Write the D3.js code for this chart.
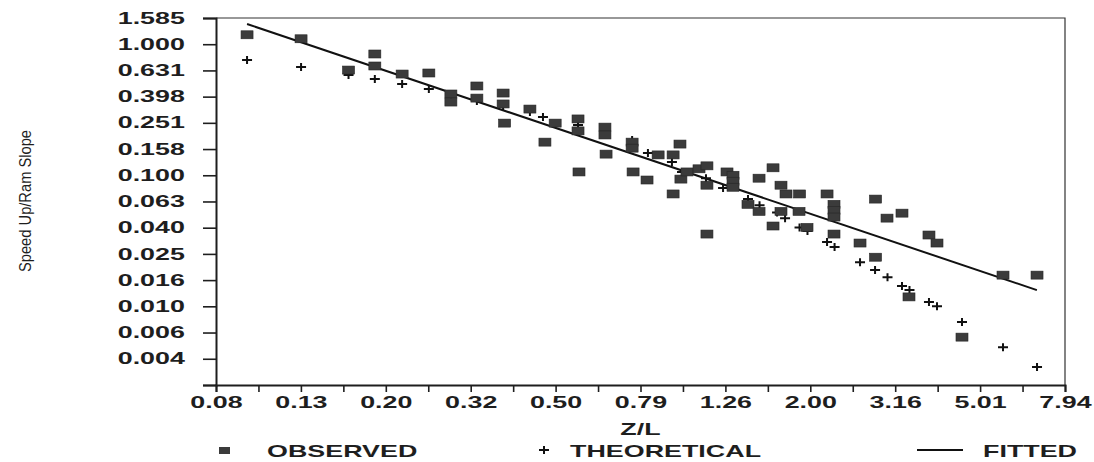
<!DOCTYPE html>
<html>
<head>
<meta charset="utf-8">
<script src="https://cdn.jsdelivr.net/npm/d3@7/dist/d3.min.js"></script>
<style>
body { margin: 0; background: #fff; }
svg { display: block; }
text { font-family: "Liberation Sans", Arial, sans-serif; }
</style>
</head>
<body>
<div id="chart"></div>
<script>
// log-spaced ticks, 0.2 decade apart
var xTickValues = [0.07943, 0.12589, 0.19953, 0.31623, 0.50119, 0.79433, 1.25893, 1.99526, 3.16228, 5.01187, 7.94328];
var xTickLabels = ["0.08", "0.13", "0.20", "0.32", "0.50", "0.79", "1.26", "2.00", "3.16", "5.01", "7.94"];
var yTickValues = [1.58489, 1.0, 0.63096, 0.39811, 0.25119, 0.15849, 0.1, 0.0631, 0.03981, 0.02512, 0.01585, 0.01, 0.00631, 0.00398, 0.00251];
var yTickLabels = ["1.585", "1.000", "0.631", "0.398", "0.251", "0.158", "0.100", "0.063", "0.040", "0.025", "0.016", "0.010", "0.006", "0.004", ""];

var observedZL = [0.094, 0.126, 0.163, 0.188, 0.188, 0.218, 0.252, 0.284, 0.284, 0.327, 0.327, 0.377, 0.377, 0.380,
    0.436, 0.473, 0.500, 0.566, 0.566, 0.569, 0.655, 0.655, 0.659, 0.759, 0.759, 0.763, 0.823, 0.874, 0.984, 0.948,
    0.948, 0.989, 1.022, 1.091, 1.139, 1.139, 1.139, 1.270, 1.312, 1.312, 1.312, 1.511, 1.423, 1.511, 1.630, 1.702,
    1.749, 1.882, 2.185, 1.702, 1.877, 1.630, 1.960, 2.269, 2.269, 2.269, 2.269, 2.613, 2.842, 2.842, 3.025, 3.281,
    3.408, 3.798, 3.967, 4.543, 5.675, 6.825];
var observedSlope = [1.18, 1.10, 0.635, 0.842, 0.682, 0.592, 0.603, 0.417, 0.362, 0.480, 0.388, 0.424, 0.350, 0.250,
    0.320, 0.179, 0.250, 0.269, 0.218, 0.106, 0.233, 0.203, 0.145, 0.179, 0.161, 0.106, 0.092, 0.143, 0.173, 0.143,
    0.072, 0.0935, 0.106, 0.112, 0.118, 0.084, 0.0356, 0.106, 0.100, 0.090, 0.081, 0.095, 0.060, 0.053, 0.114, 0.084,
    0.072, 0.072, 0.072, 0.053, 0.053, 0.041, 0.040, 0.060, 0.054, 0.048, 0.0356, 0.0304, 0.0658, 0.0237, 0.0471, 0.0514,
    0.0118, 0.0350, 0.0304, 0.00582, 0.0173, 0.0173];

var theoreticalZL = [0.094, 0.126, 0.163, 0.188, 0.218, 0.252, 0.284, 0.327, 0.377, 0.436, 0.468, 0.566, 0.655, 0.759,
    0.827, 0.942, 0.995, 1.133, 1.243, 1.423, 1.515, 1.666, 1.740, 1.882, 1.965, 2.185, 2.276, 2.613, 2.835, 3.033,
    3.281, 3.417, 3.798, 3.967, 4.543, 5.675, 6.825];
var theoreticalSlope = [0.757, 0.670, 0.582, 0.542, 0.497, 0.455, 0.402, 0.369, 0.338, 0.304, 0.278, 0.242, 0.218, 0.186,
    0.148, 0.126, 0.106, 0.095, 0.080, 0.066, 0.059, 0.052, 0.047, 0.040, 0.0375, 0.0309, 0.0283, 0.0217, 0.0189, 0.0167,
    0.0143, 0.0133, 0.0108, 0.0100, 0.00758, 0.00488, 0.00344];

var fittedZL = [0.094, 6.82];
var fittedSlope = [1.426, 0.0133];

var legendLabels = ["OBSERVED", "THEORETICAL", "FITTED"];

var width = 1094, height = 462;
var stretch = "scale(1.68,1)";
var ink = "#1e1e1e";

var x = d3.scaleLog().domain([xTickValues[0], xTickValues[xTickValues.length - 1]]).range([216, 1065]);
var y = d3.scaleLog().domain([yTickValues[yTickValues.length - 1], yTickValues[0]]).range([385, 18]);

var svg = d3.select("#chart").append("svg")
    .attr("width", width)
    .attr("height", height);

// thin frame on top and right
svg.append("path")
    .attr("d", "M" + x.range()[0] + "," + y.range()[1] + "H" + x.range()[1] + "V" + y.range()[0])
    .attr("fill", "none")
    .attr("stroke", "#333")
    .attr("stroke-width", 1.2);

// minor ticks half way between labelled ones
var xMinor = [];
for (var i = 0; i < xTickValues.length - 1; i++) {
    xMinor.push(Math.sqrt(xTickValues[i] * xTickValues[i + 1]));
}
svg.append("g")
    .attr("transform", "translate(0," + y.range()[0] + ")")
    .call(d3.axisBottom(x).tickValues(xMinor).tickSize(7).tickFormat(""))
    .call(function(g) { g.select(".domain").remove(); })
    .selectAll("line").attr("stroke", ink).attr("stroke-width", 1.6);

var xAxis = svg.append("g")
    .attr("transform", "translate(0," + y.range()[0] + ")")
    .call(d3.axisBottom(x)
        .tickValues(xTickValues)
        .tickSize(7)
        .tickPadding(5)
        .tickFormat(function(d, i) { return xTickLabels[i]; }));

var yAxis = svg.append("g")
    .attr("transform", "translate(" + x.range()[0] + ",0)")
    .call(d3.axisLeft(y)
        .tickValues(yTickValues)
        .tickSize(13)
        .tickFormat(function(d, i) { return yTickLabels[i]; }));

[xAxis, yAxis].forEach(function(g) {
    g.select(".domain").attr("stroke", ink).attr("stroke-width", 2);
    g.selectAll(".tick line").attr("stroke", ink).attr("stroke-width", 1.6);
    g.selectAll(".tick text")
        .attr("fill", ink)
        .style("font-size", "16px")
        .style("font-weight", "bold")
        .attr("transform", stretch);
});
yAxis.selectAll(".tick text").attr("x", -18.5);

// fitted line
svg.append("path")
    .datum(d3.zip(fittedZL, fittedSlope))
    .attr("fill", "none")
    .attr("stroke", "#111")
    .attr("stroke-width", 2)
    .attr("d", d3.line()
        .x(function(d) { return x(d[0]); })
        .y(function(d) { return y(d[1]); }));

// theoretical pluses
svg.selectAll(".theo")
    .data(d3.zip(theoreticalZL, theoreticalSlope))
    .enter()
    .append("path")
    .attr("class", "theo")
    .attr("transform", function(d) { return "translate(" + x(d[0]) + "," + y(d[1]) + ")"; })
    .attr("d", "M-5,0H5M0,-4V4")
    .attr("stroke", "#111")
    .attr("stroke-width", 2)
    .attr("fill", "none");

// observed squares
svg.selectAll(".obs")
    .data(d3.zip(observedZL, observedSlope))
    .enter()
    .append("rect")
    .attr("class", "obs")
    .attr("x", function(d) { return x(d[0]) - 6; })
    .attr("y", function(d) { return y(d[1]) - 4; })
    .attr("width", 12)
    .attr("height", 8)
    .attr("fill", "#3b3b3b")
    .attr("stroke", "#262626")
    .attr("stroke-width", 0.6);

// axis titles
svg.append("text")
    .attr("transform", "translate(" + (x.range()[0] + x.range()[1]) / 2 + ",435) " + stretch)
    .attr("text-anchor", "middle")
    .attr("fill", ink)
    .style("font-size", "16px")
    .style("font-weight", "bold")
    .text("Z/L");

svg.append("text")
    .attr("transform", "translate(31,201) rotate(-90)")
    .attr("text-anchor", "middle")
    .attr("fill", ink)
    .attr("textLength", 142)
    .attr("lengthAdjust", "spacingAndGlyphs")
    .style("font-size", "17px")
    .text("Speed Up/Ram Slope");

// legend
var legendY = 450;
svg.append("rect")
    .attr("x", 219).attr("y", legendY - 3)
    .attr("width", 11).attr("height", 7)
    .attr("fill", "#3b3b3b");
svg.append("path")
    .attr("transform", "translate(544," + legendY + ")")
    .attr("d", "M-5,0H5M0,-4V4")
    .attr("stroke", "#111").attr("stroke-width", 2);
svg.append("line")
    .attr("x1", 917).attr("x2", 963)
    .attr("y1", legendY).attr("y2", legendY)
    .attr("stroke", "#111").attr("stroke-width", 2);

var legendX = [267, 570, 983];
legendLabels.forEach(function(label, i) {
    svg.append("text")
        .attr("transform", "translate(" + legendX[i] + "," + (legendY + 7) + ") " + stretch)
        .attr("fill", ink)
        .style("font-size", "16px")
        .style("font-weight", "bold")
        .text(label);
});
</script>
</body>
</html>
